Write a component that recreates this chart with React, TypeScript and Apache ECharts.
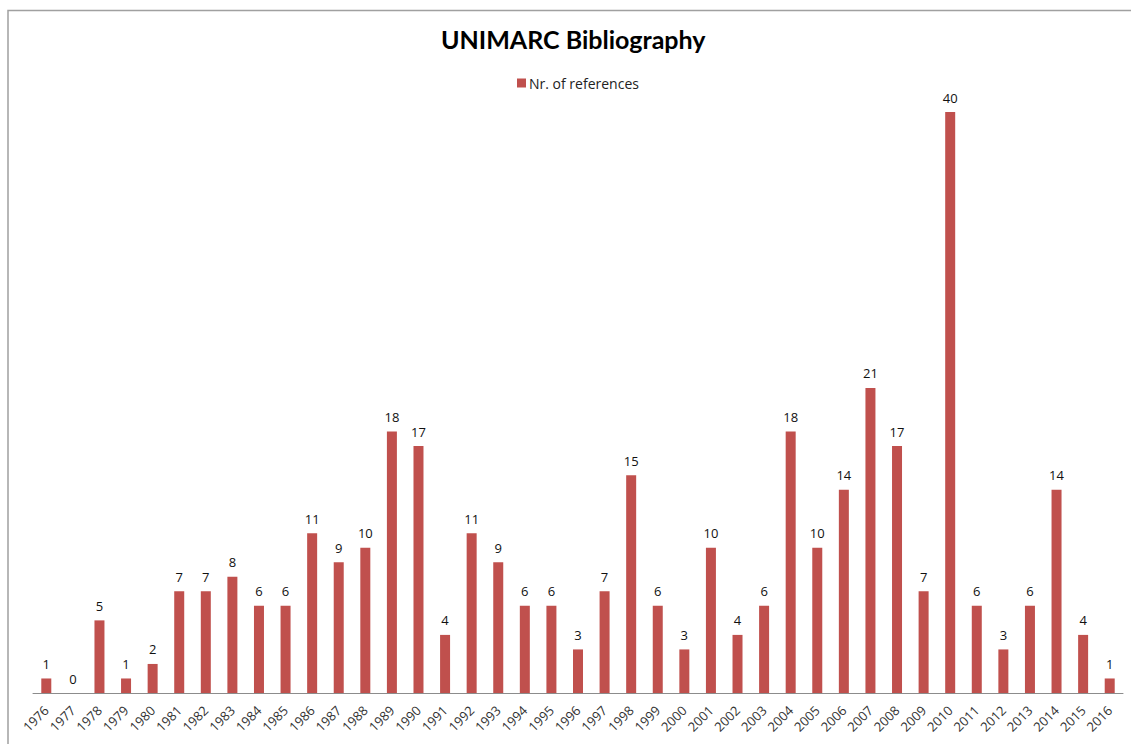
import React, { useEffect, useRef } from "react";
import * as echarts from "echarts";

const years: string[] = [
  "1976","1977","1978","1979","1980","1981","1982","1983","1984","1985",
  "1986","1987","1988","1989","1990","1991","1992","1993","1994","1995",
  "1996","1997","1998","1999","2000","2001","2002","2003","2004","2005",
  "2006","2007","2008","2009","2010","2011","2012","2013","2014","2015","2016",
];
const references: number[] = [
  1, 0, 5, 1, 2, 7, 7, 8, 6, 6,
  11, 9, 10, 18, 17, 4, 11, 9, 6, 6,
  3, 7, 15, 6, 3, 10, 4, 6, 18, 10,
  14, 21, 17, 7, 40, 6, 3, 6, 14, 4, 1,
];
const titleText = "UNIMARC Bibliography";
const seriesName = "Nr. of references";

export default function App() {
  const ref = useRef<HTMLDivElement>(null);
  useEffect(() => {
    if (!ref.current) return;
    const chart = echarts.init(ref.current, null, { renderer: "svg" });
    chart.setOption({
      animation: false,
      backgroundColor: "#ffffff",
      title: {
        text: titleText,
        left: 436,
        top: 21,
        textStyle: {
          fontFamily: "Lato",
          fontWeight: "bold",
          fontSize: 25,
          color: "#000000",
        },
      },
      legend: {
        data: [seriesName],
        top: 71,
        left: 512,
        icon: "rect",
        itemWidth: 9,
        itemHeight: 9,
        itemGap: 4,
        itemStyle: { color: "#c0504d" },
        textStyle: { fontFamily: "Open Sans", fontSize: 14, color: "#222", padding: [0, 0, 0, -2] },
      },
      graphic: [
        {
          type: "polyline",
          shape: { points: [[8, 760], [8, 10.5], [1140, 10.5]] },
          style: { stroke: "#a0a0a0", lineWidth: 1.5, fill: null },
        },
      ],
      grid: { left: 33, right: 8, top: 112, bottom: 51, containLabel: false },
      xAxis: {
        type: "category",
        data: years,
        axisLine: { show: true, lineStyle: { color: "#8c8c8c", width: 1 } },
        axisTick: { show: false },
        axisLabel: {
          rotate: 45,
          interval: 0,
          margin: 15,
          fontFamily: "Open Sans",
          fontSize: 13,
          color: "#333",
        },
      },
      yAxis: {
        type: "value",
        min: 0,
        max: 40,
        show: false,
        splitLine: { show: false },
      },
      series: [
        {
          name: seriesName,
          type: "bar",
          data: references,
          barWidth: 10,
          itemStyle: { color: "#c0504d" },
          label: {
            show: true,
            position: "top",
            distance: 8,
            fontFamily: "Open Sans",
            fontSize: 13,
            color: "#111",
          },
        },
      ],
    });
    return () => chart.dispose();
  }, []);
  return (
    <div
      ref={ref}
      style={{ position: "fixed", left: 0, top: 0, width: 1131, height: 744 }}
    />
  );
}
